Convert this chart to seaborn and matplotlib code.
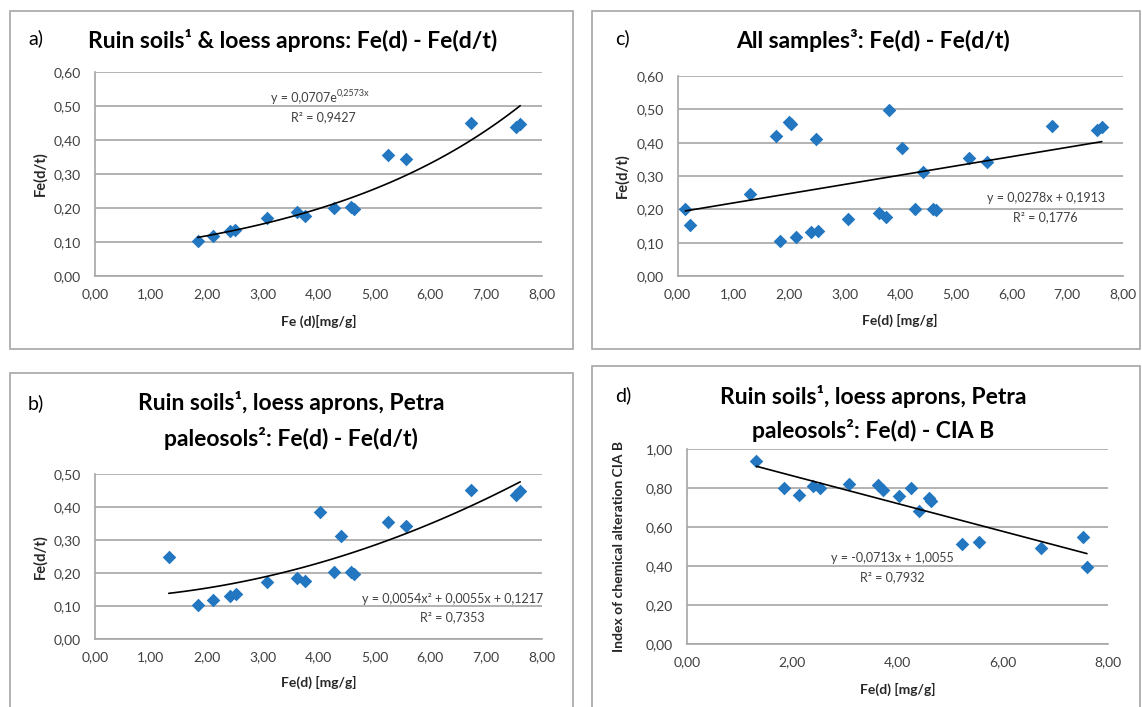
import numpy as np
import pandas as pd
import matplotlib.pyplot as plt
from matplotlib.patches import Rectangle
from matplotlib.ticker import FuncFormatter, MultipleLocator
import seaborn as sns

# ------------------------------------------------------------------
# data
# ------------------------------------------------------------------
# a) ruin soils & loess aprons
fe_d_a = [1.84, 2.12, 2.41, 2.51, 3.07, 3.62, 3.75, 4.27, 4.59, 4.64, 5.24, 5.57, 6.73, 7.53, 7.61]
fe_dt_a = [0.104, 0.118, 0.131, 0.136, 0.172, 0.188, 0.175, 0.200, 0.202, 0.196, 0.355, 0.344, 0.450, 0.437, 0.448]

# b) ruin soils, loess aprons, Petra paleosols
fe_d_b = [1.32, 1.84, 2.12, 2.41, 2.52, 3.07, 3.62, 3.75, 4.03, 4.27, 4.41, 4.59, 4.64, 5.24, 5.57, 6.73, 7.53, 7.61]
fe_dt_b = [0.247, 0.104, 0.119, 0.131, 0.136, 0.172, 0.186, 0.176, 0.385, 0.202, 0.311, 0.202, 0.198, 0.356, 0.343, 0.451, 0.437, 0.450]

# c) all samples
fe_d_c = [0.14, 0.22, 1.31, 1.76, 2.01, 2.03, 2.48, 1.84, 2.13, 2.40, 2.53, 3.07, 3.61, 3.75, 3.79,
          4.03, 4.27, 4.41, 4.58, 4.64, 5.24, 5.56, 6.73, 7.54, 7.62]
fe_dt_c = [0.200, 0.153, 0.246, 0.421, 0.461, 0.456, 0.410, 0.104, 0.118, 0.131, 0.136, 0.172, 0.188, 0.176, 0.497,
           0.384, 0.200, 0.311, 0.202, 0.197, 0.355, 0.343, 0.449, 0.438, 0.448]

# d) Fe(d) vs CIA B
fe_d_d = [1.32, 1.84, 2.12, 2.40, 2.52, 3.07, 3.63, 3.73, 4.03, 4.26, 4.41, 4.59, 4.63, 5.23, 5.55, 6.72, 7.53, 7.60]
cia_d = [0.940, 0.802, 0.764, 0.809, 0.798, 0.822, 0.815, 0.791, 0.757, 0.800, 0.682, 0.750, 0.732, 0.511, 0.521, 0.492, 0.547, 0.395]

# trendline coefficients as printed on the chart
exp_a = (0.0707, 0.2573)
poly_b = (0.0054, 0.0055, 0.1217)
lin_c = (0.0278, 0.1913)
lin_d = (-0.0713, 1.0055)

W, H = 1142, 707
BLUE = "#2277C0"
GRID = "#A6A6A6"
EQ = 9

sns.set_theme(style="white")
plt.rcParams["font.family"] = ["Lato", "DejaVu Sans"]

fig = plt.figure(figsize=(W / 100, H / 100), dpi=100)


def px_axes(left, top, right, bottom):
    return fig.add_axes([left / W, 1 - bottom / H, (right - left) / W, (bottom - top) / H])


def comma(v, pos):
    return f"{v:.2f}".replace(".", ",")


def style_axes(ax, ymax, ystep, xstep, xlabel, ylabel, xlab_y, ylab_x, ylab_size=10.5):
    ax.set_xlim(0, 8)
    ax.set_ylim(0, ymax)
    ax.xaxis.set_major_locator(MultipleLocator(xstep))
    ax.yaxis.set_major_locator(MultipleLocator(ystep))
    ax.xaxis.set_major_formatter(FuncFormatter(comma))
    ax.yaxis.set_major_formatter(FuncFormatter(comma))
    ax.tick_params(axis="both", length=0, labelsize=10, labelcolor="#404040")
    ax.tick_params(axis="x", pad=9)
    ax.tick_params(axis="y", pad=10)
    ax.grid(axis="y", color=GRID, lw=1.2)
    ax.set_axisbelow(True)
    for s in ["top", "right"]:
        ax.spines[s].set_visible(False)
    for s in ["left", "bottom"]:
        ax.spines[s].set_color(GRID)
        ax.spines[s].set_linewidth(1.2)
    ax.set_xlabel(xlabel, fontsize=10, fontweight="bold", color="#262626", va="center")
    ax.set_ylabel(ylabel, fontsize=ylab_size, fontweight="bold", color="#262626", va="center")
    ax.xaxis.set_label_coords(0.5, xlab_y)
    ax.yaxis.set_label_coords(ylab_x, 0.5)


def draw_points(ax, x, y, fit_x, fit_y):
    df = pd.DataFrame({"x": x, "y": y})
    sns.scatterplot(data=df, x="x", y="y", marker="D", s=48, color=BLUE, linewidth=0, ax=ax, zorder=3)
    sns.lineplot(x=fit_x, y=fit_y, color="black", lw=1.2, ax=ax, zorder=4)


# ---------------- panel boxes ----------------
for (x0, y0, x1, y1) in [(10, 11, 573, 349), (592, 11, 1140, 349), (10, 373, 573, 712), (592, 366, 1140, 712)]:
    fig.add_artist(Rectangle((x0 / W, 1 - y1 / H), (x1 - x0) / W, (y1 - y0) / H,
                             transform=fig.transFigure, fill=False, ec=GRID, lw=1.2))

# ---------------- a ----------------
ax_a = px_axes(95, 72, 542, 276)
xs = np.linspace(min(fe_d_a), max(fe_d_a), 100)
draw_points(ax_a, fe_d_a, fe_dt_a, xs, exp_a[0] * np.exp(exp_a[1] * xs))
style_axes(ax_a, 0.6, 0.1, 1, "Fe (d)[mg/g]", "Fe(d/t)", -0.221, -0.123)
eq = ax_a.text(3.15, 0.524, "y = 0,0707e", fontsize=EQ, color="#404040", ha="left", va="center")
ax_a.annotate("0,2573x", xy=(1, 0.55), xycoords=eq, fontsize=6.5, color="#404040", ha="left", va="bottom")
ax_a.text(4.08, 0.468, "R² = 0,9427", fontsize=EQ, color="#404040", ha="center", va="center")

# ---------------- c ----------------
ax_c = px_axes(677.5, 76, 1123, 276)
xs = np.linspace(min(fe_d_c), max(fe_d_c), 100)
draw_points(ax_c, fe_d_c, fe_dt_c, xs, lin_c[0] * xs + lin_c[1])
style_axes(ax_c, 0.6, 0.1, 1, "Fe(d) [mg/g]", "Fe(d/t)", -0.224, -0.125)
ax_c.text(6.61, 0.233, "y = 0,0278x + 0,1913", fontsize=EQ, color="#404040", ha="center", va="center")
ax_c.text(6.61, 0.176, "R² = 0,1776", fontsize=EQ, color="#404040", ha="center", va="center")

# ---------------- b ----------------
ax_b = px_axes(95, 474, 542, 639)
xs = np.linspace(min(fe_d_b), max(fe_d_b), 100)
draw_points(ax_b, fe_d_b, fe_dt_b, xs, poly_b[0] * xs ** 2 + poly_b[1] * xs + poly_b[2])
style_axes(ax_b, 0.5, 0.1, 1, "Fe(d) [mg/g]", "Fe(d/t)", -0.264, -0.123)
ax_b.text(6.40, 0.122, "y = 0,0054x² + 0,0055x + 0,1217", fontsize=EQ, color="#404040", ha="center", va="center")
ax_b.text(6.40, 0.0655, "R² = 0,7353", fontsize=EQ, color="#404040", ha="center", va="center")

# ---------------- d ----------------
ax_d = px_axes(687, 449, 1108, 644)
xs = np.linspace(min(fe_d_d), max(fe_d_d), 100)
draw_points(ax_d, fe_d_d, cia_d, xs, lin_d[0] * xs + lin_d[1])
style_axes(ax_d, 1.0, 0.2, 2, "Fe(d) [mg/g]", "Index of chemical alteration CIA B", -0.231, -0.161, ylab_size=10)
ax_d.text(3.91, 0.441, "y = -0,0713x + 1,0055", fontsize=EQ, color="#404040", ha="center", va="center")
ax_d.text(3.91, 0.342, "R² = 0,7932", fontsize=EQ, color="#404040", ha="center", va="center")

# ---------------- titles ----------------
TS = 16.5
fig.text(28 / W, 1 - 38 / H, "a)", fontsize=14, ha="left", va="center", color="black")
fig.text(293 / W, 1 - 40 / H, "Ruin soils¹ & loess aprons: Fe(d) - Fe(d/t)", fontsize=TS,
         fontweight="bold", ha="center", va="center", color="black")
fig.text(615 / W, 1 - 38 / H, "c)", fontsize=14, ha="left", va="center", color="black")
fig.text(873 / W, 1 - 40 / H, "All samples³: Fe(d) - Fe(d/t)", fontsize=TS,
         fontweight="bold", ha="center", va="center", color="black")
fig.text(28 / W, 1 - 403 / H, "b)", fontsize=14, ha="left", va="center", color="black")
fig.text(291 / W, 1 - 403 / H, "Ruin soils¹, loess aprons, Petra", fontsize=TS,
         fontweight="bold", ha="center", va="center", color="black")
fig.text(291 / W, 1 - 438 / H, "paleosols²: Fe(d) - Fe(d/t)", fontsize=TS,
         fontweight="bold", ha="center", va="center", color="black")
fig.text(615 / W, 1 - 395 / H, "d)", fontsize=14, ha="left", va="center", color="black")
fig.text(873 / W, 1 - 397 / H, "Ruin soils¹, loess aprons, Petra", fontsize=TS,
         fontweight="bold", ha="center", va="center", color="black")
fig.text(873 / W, 1 - 431 / H, "paleosols²: Fe(d) - CIA B", fontsize=TS,
         fontweight="bold", ha="center", va="center", color="black")

fig.savefig("out.png", dpi=100, facecolor="white")
